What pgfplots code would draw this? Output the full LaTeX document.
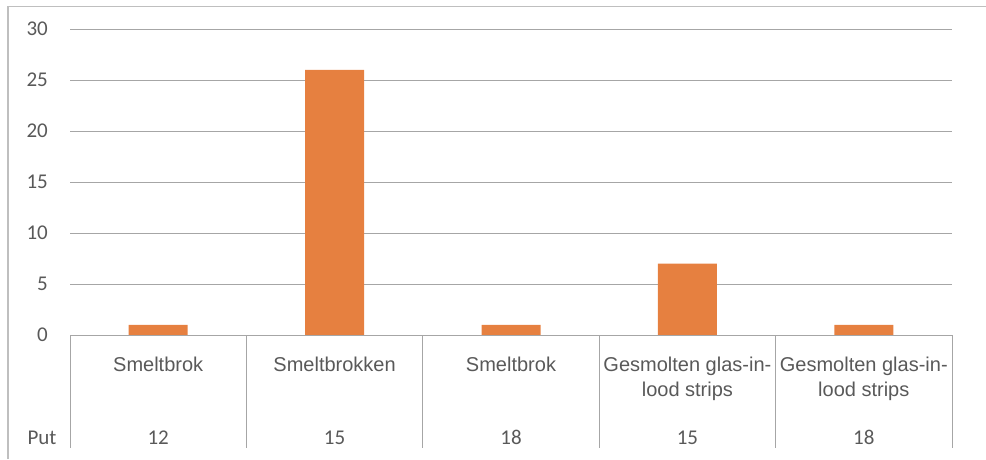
\documentclass[border=0pt]{standalone}
\usepackage{pgfplots}
\pgfplotsset{compat=1.18}
\usepackage{fontspec}
\setmainfont{Liberation Sans}
\newfontfamily\numfont{Carlito}
\definecolor{barorange}{RGB}{230,128,64}
\definecolor{txtgray}{RGB}{89,89,89}
\definecolor{gridgray}{RGB}{166,166,166}
\definecolor{framegray}{RGB}{191,191,191}
\begin{document}
\begin{tikzpicture}
\path[use as bounding box] (0,0) rectangle (986pt,-459pt);
\draw[framegray, line width=1.5pt] (8pt,-459pt) -- (8pt,-6.5pt) -- (986pt,-6.5pt);
\begin{axis}[
 at={(70pt,-335pt)}, anchor=south west,
 scale only axis, width=882pt, height=306pt,
 xmin=-0.5, xmax=4.5, ymin=0, ymax=30,
 axis line style={draw=none},
 ytick={0,5,...,30},
 ymajorgrids, grid style={gridgray, line width=0.9pt},
 major tick length=0pt,
 xtick={0,...,4},
 xticklabels={Smeltbrok, Smeltbrokken, Smeltbrok, {Gesmolten glas-in-\\lood strips}, {Gesmolten glas-in-\\lood strips}},
 xticklabel style={anchor=north, inner sep=0pt, yshift=-22pt, align=center, font=\fontsize{20}{24.5}\selectfont, text=txtgray},
 yticklabel style={anchor=east, inner sep=0pt, xshift=-22pt, font=\numfont\fontsize{21}{24}\selectfont, text=txtgray},
 /pgf/number format/assume math mode=true,
 clip=false,
]
\addplot[ybar, bar width=59pt, fill=barorange, draw=none] coordinates {(0,1) (1,26) (2,1) (3,7) (4,1)};
\draw[gridgray, line width=0.9pt] (axis cs:-0.5,0) -- (axis cs:4.5,0);
\pgfplotsinvokeforeach{-0.5,0.5,1.5,2.5,3.5,4.5}{
  \draw[gridgray, line width=0.9pt] (axis cs:#1,0) -- ++(0pt,-113pt);
}
\node[anchor=base, text=txtgray, font=\numfont\fontsize{21}{24}\selectfont, yshift=-109pt] at (axis cs:0,0) {12};
\node[anchor=base, text=txtgray, font=\numfont\fontsize{21}{24}\selectfont, yshift=-109pt] at (axis cs:1,0) {15};
\node[anchor=base, text=txtgray, font=\numfont\fontsize{21}{24}\selectfont, yshift=-109pt] at (axis cs:2,0) {18};
\node[anchor=base, text=txtgray, font=\numfont\fontsize{21}{24}\selectfont, yshift=-109pt] at (axis cs:3,0) {15};
\node[anchor=base, text=txtgray, font=\numfont\fontsize{21}{24}\selectfont, yshift=-109pt] at (axis cs:4,0) {18};
\end{axis}
\node[anchor=base, text=txtgray, font=\numfont\fontsize{21}{24}\selectfont] at (42pt,-444pt) {Put};
\end{tikzpicture}
\end{document}
